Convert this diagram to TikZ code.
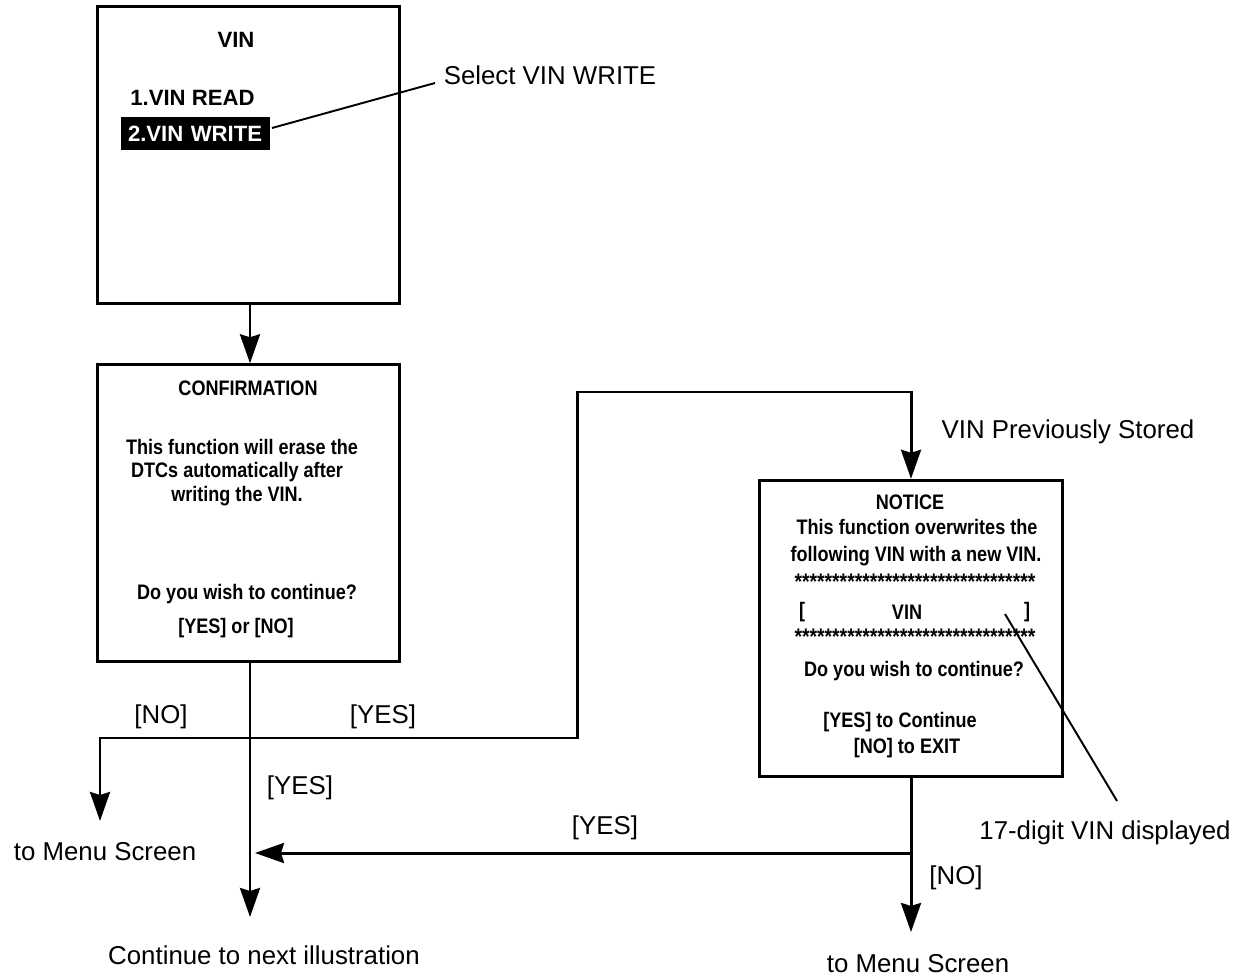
\documentclass[tikz,border=0pt]{standalone}
\usepackage{fontspec}
\setmainfont{Liberation Sans}
\newfontfamily\condfont[FakeStretch=0.86]{Liberation Sans}
\usetikzlibrary{arrows.meta}
\tikzset{
  screen/.style={draw, line width=1.7pt, minimum width=6.05cm, minimum height=5.93cm, inner sep=0pt},
  arr/.style={line width=1.7pt, -{Stealth[length=0.58cm, width=0.4cm, inset=0.06cm]}},
  conn/.style={line width=1.7pt},
  lead/.style={line width=1.1pt},
  lbl/.style={font=\fontsize{14.7}{17}\selectfont, inner sep=0pt},
  scr/.style={font=\condfont\bfseries\fontsize{11.95}{14}\selectfont, inner sep=0pt},
  stars/.style={font=\condfont\bfseries\fontsize{12.8}{14}\selectfont, inner sep=0pt},
  scra/.style={font=\bfseries\fontsize{12.6}{15}\selectfont, inner sep=0pt},
}
\begin{document}
\begin{tikzpicture}[x=0.02cm, y=-0.02cm]
\useasboundingbox (0,0) rectangle (1246,979);
% screens
\node[screen] (b1) at (248.5,155) {};
\node[screen] (b2) at (248.5,513) {};
\node[screen] (b3) at (911,628.5) {};
% box 1 texts
\node[scra] (t1) at (236,40) {VIN};
\node[scra, anchor=west] (r1) at (130,98) {1.VIN READ};
\node[scra, fill=black, text=white, minimum width=2.98cm, minimum height=0.66cm, text width=2.7cm, align=left] (w2) at (195.5,133.5) {2.VIN WRITE};
% box 2 texts
\node[scr] (c1) at (248,388) {CONFIRMATION};
\node[scr] (c2) at (242,447) {This function will erase the};
\node[scr] (c3) at (237,472) {DTCs automatically after};
\node[scr] (c4) at (237,496) {writing the VIN.};
\node[scr] (c5) at (247,594) {Do you wish to continue?};
\node[scr] (c6) at (236,628) {[YES] or [NO]};
% box 3 texts
\node[scr] (n1) at (910,502) {NOTICE};
\node[scr] (n2) at (917,527) {This function overwrites the};
\node[scr] (n3) at (916,556) {following VIN with a new VIN.};
\node[stars] (s1) at (915,582) {********************************};
\node[scr] (bl) at (802,612) {[};
\node[scr] (nv) at (907,612) {VIN};
\node[scr] (br) at (1027,612) {]};
\node[stars] (s2) at (915,637) {********************************};
\node[scr] (n4) at (914,671) {Do you wish to continue?};
\node[scr] (n5) at (900,722) {[YES] to Continue};
\node[scr] (n6) at (907,748) {[NO] to EXIT};
% labels
\node[lbl] (sel) at (550,75) {Select VIN WRITE};
\node[lbl] (prev) at (1068,432) {VIN Previously Stored};
\node[lbl] (dig) at (1105,833) {17-digit VIN displayed};
\node[lbl] (lno) at (161,717) {[NO]};
\node[lbl] (lyes1) at (383,717) {[YES]};
\node[lbl] (lyes2) at (300,788) {[YES]};
\node[lbl] (lyes3) at (605,828) {[YES]};
\node[lbl] (lno2) at (956,878) {[NO]};
\node[lbl] (menu1) at (105,852) {to Menu Screen};
\node[lbl] (cont) at (264,955) {Continue to next illustration};
\node[lbl] (menu2) at (918,964) {to Menu Screen};
% coordinates
\coordinate (j1) at (250,738);
\coordinate (m1tip) at (100,821);
\coordinate (ctip) at (250,917);
\coordinate (up1) at (577,738);
\coordinate (up2) at (577,392);
\coordinate (up3) at (911,392);
\coordinate (j2) at (911,853);
\coordinate (m2tip) at (911,932);
\coordinate (ytip) at (255,853);
\coordinate (l1a) at (272,128);
\coordinate (l1b) at (435,83);
\coordinate (l2a) at (1005,614);
\coordinate (l2b) at (1117,801);
% connectors
\draw[arr] (b1.south -| ctip) -- (b2.north -| ctip);
\draw[arr] (b2.south -| ctip) -- (ctip);
\draw[arr] (j1) -| (m1tip);
\draw[arr] (j1) -- (up1) -- (up2) -- (up3) -- (b3.north);
\draw[arr] (b3.south) -- (m2tip);
\draw[arr] (j2) -- (ytip);
\draw[lead] (l1a) -- (l1b);
\draw[lead] (l2a) -- (l2b);
\end{tikzpicture}
\end{document}
